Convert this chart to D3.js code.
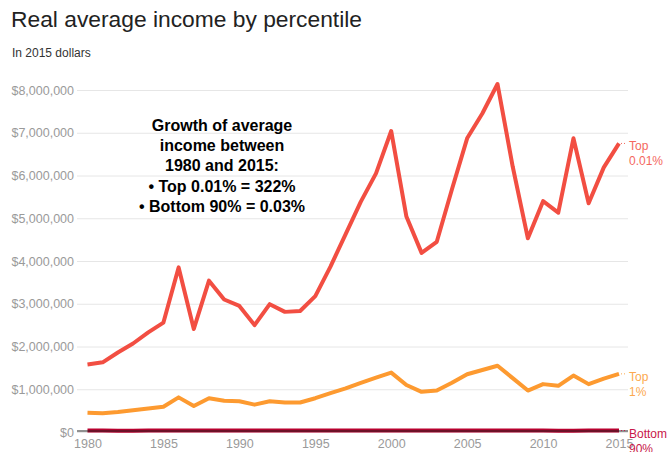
<!DOCTYPE html>
<html>
<head>
<meta charset="utf-8">
<script src="https://cdn.jsdelivr.net/npm/d3@7"></script>
<style>
  body { margin: 0; background: #fff; }
  svg { font-family: "Liberation Sans", Arial, sans-serif; }
  .axis path { display: none; }
  .axis text { fill: #9a9a9a; font-size: 12.5px; }
  .y-axis line { stroke: #e6e6e6; }
</style>
</head>
<body>
<div id="chart"></div>
<script>
var years = d3.range(1980, 2016);

// real average income, 2015 dollars
var top001 = [1580000, 1630000, 1860000, 2070000, 2330000, 2560000, 3850000, 2410000, 3540000, 3100000,
              2950000, 2500000, 2990000, 2810000, 2830000, 3180000, 3870000, 4630000, 5390000, 6050000,
              7040000, 5040000, 4190000, 4450000, 5680000, 6870000, 7450000, 8140000, 6210000, 4530000,
              5400000, 5130000, 6870000, 5350000, 6190000, 6750000];
var top1 = [450000, 440000, 470000, 510000, 550000, 590000, 810000, 610000, 790000, 730000,
            720000, 640000, 720000, 690000, 690000, 790000, 910000, 1020000, 1150000, 1270000,
            1390000, 1100000, 940000, 970000, 1150000, 1350000, 1450000, 1550000, 1260000, 970000,
            1120000, 1080000, 1320000, 1120000, 1250000, 1360000];
var bottom90 = [33000, 32500, 32000, 32000, 32500, 33000, 33500, 33500, 34000, 34000,
                33500, 33000, 32500, 32500, 32500, 33000, 33000, 33500, 34500, 35000,
                35500, 35000, 34500, 34000, 34000, 34000, 34500, 34500, 34000, 33000,
                32500, 32000, 32000, 32500, 33000, 34000];

var yTicks = [0, 1000000, 2000000, 3000000, 4000000, 5000000, 6000000, 7000000, 8000000];
var xTicks = [1980, 1985, 1990, 1995, 2000, 2005, 2010, 2015];

var series = [
    { name: ['Bottom', '90%'], values: bottom90, color: '#b8002e', label: '#c8174a' },
    { name: ['Top', '1%'],     values: top1,     color: '#fd9a30', label: '#fca94f' },
    { name: ['Top', '0.01%'],  values: top001,   color: '#f24e42', label: '#f4685e' }
];

var notes = ['Growth of average', 'income between', '1980 and 2015:',
             '\u2022 Top 0.01% = 322%', '\u2022 Bottom 90% = 0.03%'];

var width = 668;
var height = 452;

var x = d3.scaleLinear().domain([1980, 2015]).range([87.5, 619]);
var y = d3.scaleLinear().domain([0, 8000000]).range([432, 90]);

var svg = d3.select('#chart').append('svg')
    .attr('width', width)
    .attr('height', height);

svg.append('text')
    .attr('x', 11)
    .attr('y', 27)
    .attr('fill', '#222')
    .style('font-size', '22.8px')
    .text('Real average income by percentile');

svg.append('text')
    .attr('x', 12)
    .attr('y', 57)
    .attr('fill', '#333')
    .style('font-size', '12px')
    .text('In 2015 dollars');

var yAxis = d3.axisLeft(y)
    .tickValues(yTicks)
    .tickSize(-551)
    .tickPadding(3)
    .tickFormat(function(d) { return '$' + d3.format(',')(d); });

svg.append('g')
    .attr('class', 'axis y-axis')
    .attr('transform', 'translate(77,0)')
    .call(yAxis);

var xAxis = d3.axisBottom(x)
    .tickValues(xTicks)
    .tickSize(0)
    .tickPadding(7)
    .tickFormat(d3.format('d'));

svg.append('g')
    .attr('class', 'axis x-axis')
    .attr('transform', 'translate(0,' + y(0) + ')')
    .call(xAxis);

var line = d3.line()
    .x(function(d, i) { return x(years[i]); })
    .y(function(d) { return y(d); });

svg.selectAll('.series')
    .data(series)
  .enter().append('path')
    .attr('class', 'series')
    .attr('d', function(d) { return line(d.values); })
    .attr('fill', 'none')
    .attr('stroke', function(d) { return d.color; })
    .attr('stroke-width', 4)
    .attr('stroke-linejoin', 'round');

// zero baseline drawn over the bottom series
svg.append('line')
    .attr('x1', 77)
    .attr('x2', 628)
    .attr('y1', y(0) - 1)
    .attr('y2', y(0) - 1)
    .attr('stroke', '#222')
    .attr('stroke-width', 1);

var last = years.length - 1;

svg.selectAll('.leader')
    .data(series)
  .enter().append('line')
    .attr('class', 'leader')
    .attr('x1', x(2015) + 2)
    .attr('x2', x(2015) + 8)
    .attr('y1', function(d) { return y(d.values[last]); })
    .attr('y2', function(d) { return y(d.values[last]); })
    .attr('stroke', function(d) { return d.label; })
    .attr('stroke-width', 1)
    .attr('stroke-dasharray', '1,2');

var labels = svg.selectAll('.end-label')
    .data(series)
  .enter().append('text')
    .attr('class', 'end-label')
    .attr('fill', function(d) { return d.label; })
    .style('font-size', '12px');

labels.selectAll('tspan')
    .data(function(d) {
        var yy = y(d.values[last]);
        return d.name.map(function(n, i) { return { text: n, y: yy + 7 + i * 15 }; });
    })
  .enter().append('tspan')
    .attr('x', 629)
    .attr('y', function(d) { return d.y; })
    .text(function(d) { return d.text; });

svg.append('text')
    .attr('text-anchor', 'middle')
    .attr('fill', '#000')
    .style('font-size', '16px')
    .style('font-weight', 'bold')
  .selectAll('tspan')
    .data(notes)
  .enter().append('tspan')
    .attr('x', 222)
    .attr('y', function(d, i) { return 131 + i * 20.2; })
    .text(function(d) { return d; });
</script>
</body>
</html>
